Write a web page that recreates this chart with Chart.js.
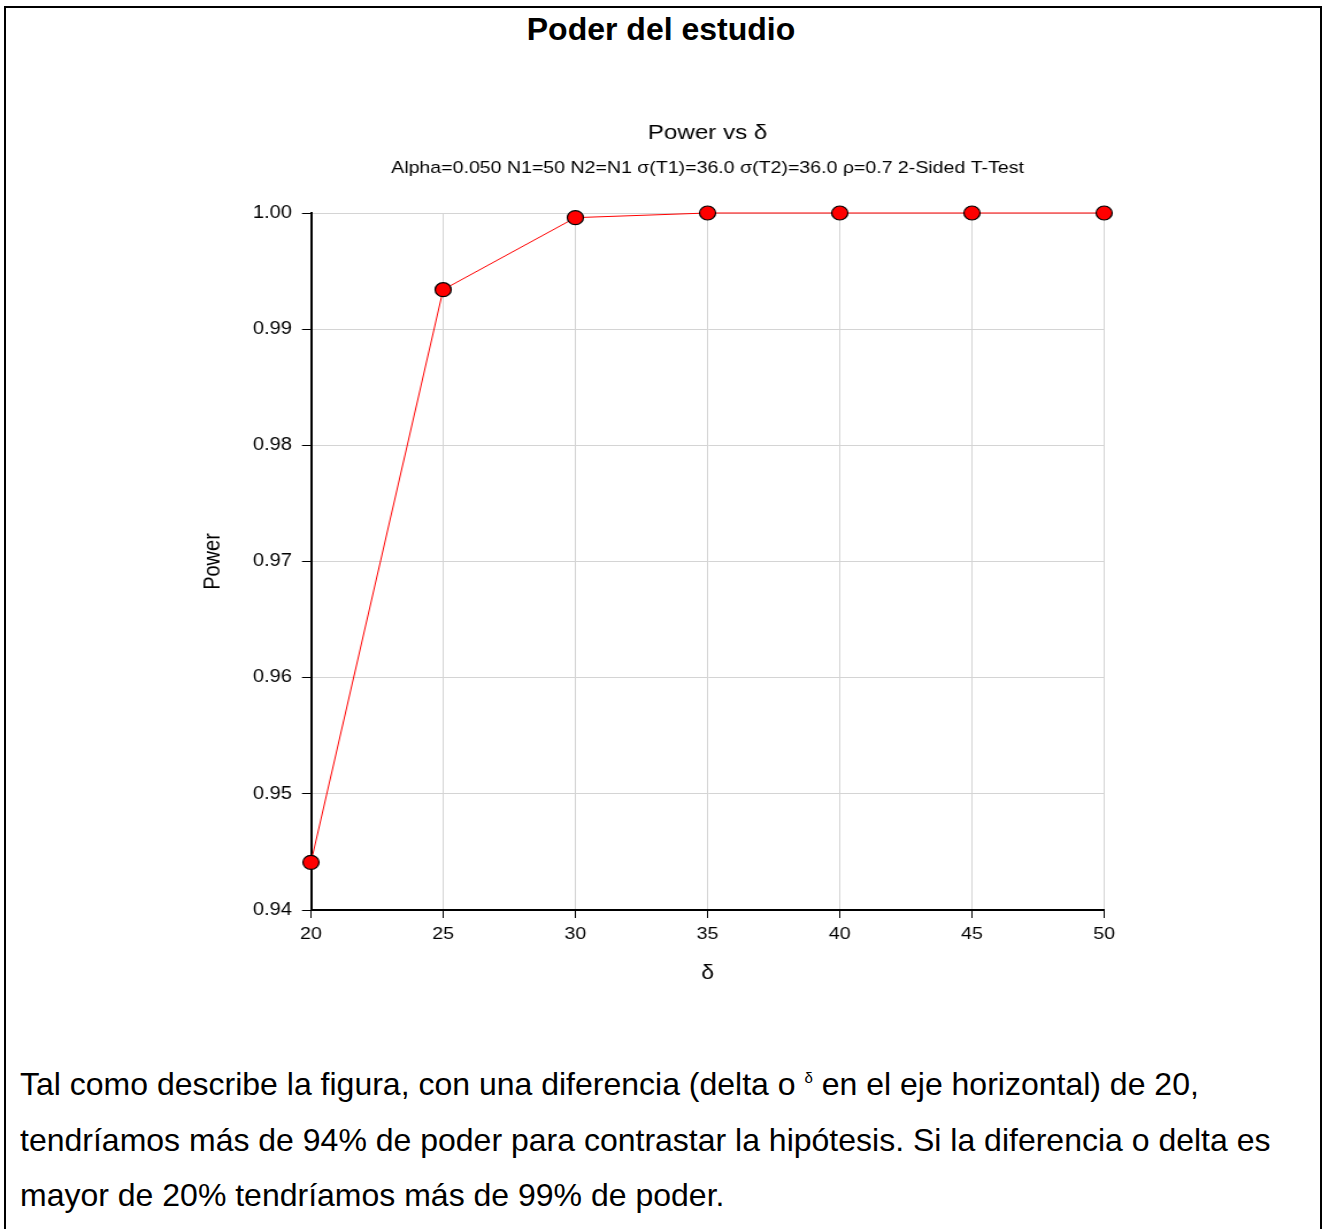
<!DOCTYPE html>
<html>
<head>
<meta charset="utf-8">
<script src="https://cdn.jsdelivr.net/npm/chart.js"></script>
<style>
  body { margin: 0; background: #fff; font-family: "Liberation Sans", Arial, sans-serif; }
  #frame { position: absolute; left: 4px; top: 6px; width: 1314px; height: 1400px; border: 2px solid #000; border-bottom: none; }
  #heading { position: absolute; left: 0; top: 11px; width: 1322px; text-align: center; font-weight: bold; font-size: 32px; color: #000; }
  #plot { position: absolute; left: 0; top: 100px; }
  #note { position: absolute; left: 20px; top: 1057px; font-size: 32px; line-height: 55.5px; color: #000; white-space: nowrap; }
  #note sup { font-size: 15px; vertical-align: 12px; line-height: 0; }
</style>
</head>
<body>
<div id="frame"></div>
<div id="heading">Poder del estudio</div>
<!-- the source picture is stretched sideways, so the canvas is drawn narrow and widened by its style -->
<canvas id="plot" width="1150" height="890" style="width:1322px;height:890px"></canvas>
<div id="note">Tal como describe la figura, con una diferencia (delta o <sup>δ</sup> en el eje horizontal) de 20,<br>tendríamos más de 94% de poder para contrastar la hipótesis. Si la diferencia o delta es<br>mayor de 20% tendríamos más de 99% de poder.</div>
<script>
const deltas = [20, 25, 30, 35, 40, 45, 50];
const power = [0.9441, 0.9934, 0.9996, 1.0, 1.0, 1.0, 1.0];
const yTicks = [0.94, 0.95, 0.96, 0.97, 0.98, 0.99, 1.00];

const ctx = document.getElementById('plot');
Chart.defaults.font.family = 'Liberation Sans, Arial, sans-serif';
Chart.defaults.color = '#000';

new Chart(ctx, {
    type: 'line',
    data: {
        datasets: [
            {
                label: 'Power',
                data: deltas.map((d, i) => ({ x: d, y: power[i] })),
                borderWidth: 1,
                borderColor: '#ff0000',
                backgroundColor: '#ff0000',
                pointRadius: 7,
                pointHoverRadius: 7,
                pointBorderColor: '#000',
                pointBorderWidth: 1.2,
                pointBackgroundColor: '#ff0000',
                tension: 0,
                clip: false,
            }
        ]
    },
    options: {
        responsive: false,
        animation: false,
        layout: {
            padding: { left: 170, right: 89, top: 0, bottom: 0 }
        },
        plugins: {
            legend: { display: false },
            tooltip: { enabled: false },
            title: {
                display: true,
                text: 'Power vs δ',
                font: { size: 21, weight: 'normal' },
                padding: { top: 20.4, bottom: 12.2 },
            },
            subtitle: {
                display: true,
                text: 'Alpha=0.050 N1=50 N2=N1 σ(T1)=36.0 σ(T2)=36.0 ρ=0.7 2-Sided T-Test',
                font: { size: 17 },
                color: '#000',
                padding: { top: 0, bottom: 34.8 },
            }
        },
        scales: {
            x: {
                type: 'linear',
                min: 20,
                max: 50,
                ticks: { stepSize: 5, font: { size: 17 }, padding: 6 },
                grid: { color: '#d4d4d4', tickColor: '#000', tickLength: 8 },
                border: { color: '#000', width: 2 },
                title: { display: true, text: 'δ', font: { size: 20 }, padding: { top: 0, bottom: 5 } },
                afterFit: (scale) => { scale.height = 80; },
            },
            y: {
                min: 0.94,
                max: 1.0,
                afterBuildTicks: (scale) => { scale.ticks = yTicks.map(v => ({ value: v })); },
                ticks: { font: { size: 17.5 }, padding: 8.7, callback: (v) => v.toFixed(2) },
                grid: { color: '#d4d4d4', tickColor: '#000', tickLength: 7.8 },
                border: { color: '#000', width: 2 },
                title: { display: true, text: 'Power', font: { size: 20 }, padding: { top: 3.3, bottom: 0 } },
                afterFit: (scale) => { scale.width = 100.5; },
            },
            // empty box on the right so the titles centre over the plot
            y2: {
                position: 'right',
                display: true,
                grid: { display: false, drawTicks: false },
                ticks: { display: false },
                border: { display: false },
                afterFit: (scale) => { scale.width = 100.5; },
            }
        }
    }
});
</script>
</body>
</html>
